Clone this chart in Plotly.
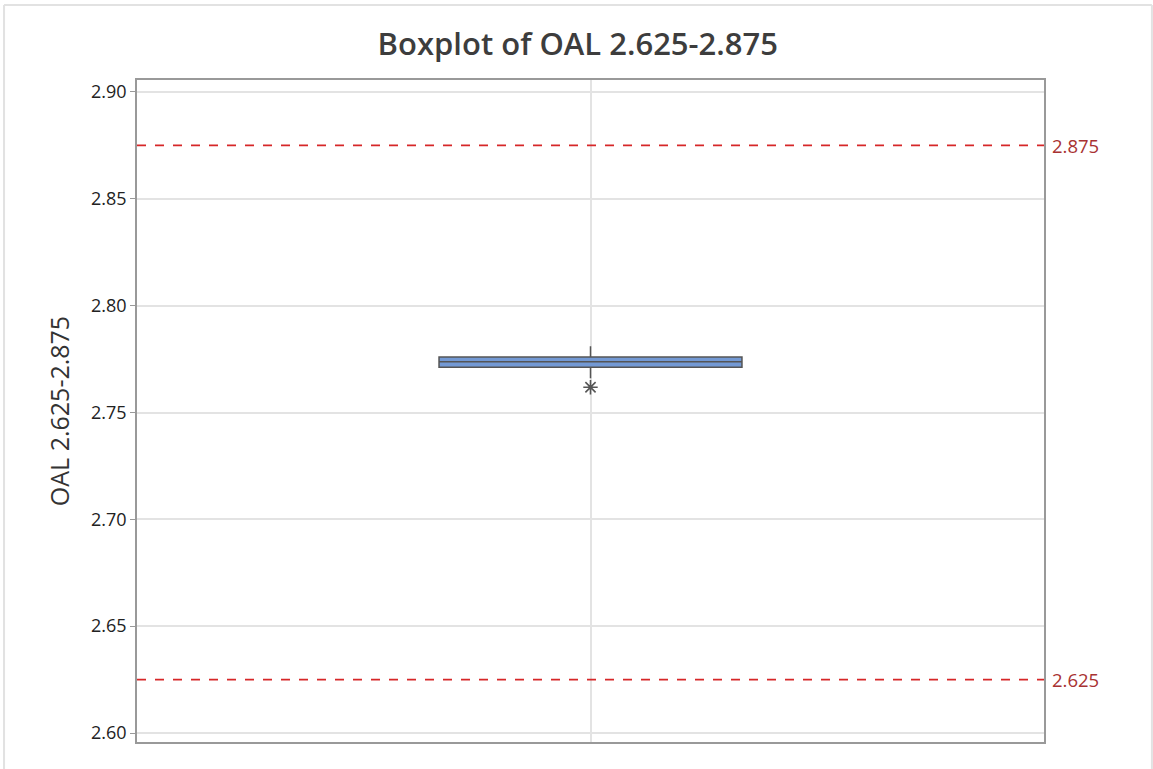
import plotly.graph_objects as go

# Summary statistics of the OAL measurements
group = ["OAL 2.625-2.875"]
q1 = [2.7712]
median = [2.7738]
q3 = [2.7760]
lower_whisker = [2.7660]
upper_whisker = [2.7810]
outliers = [2.7618]

# Specification limits
spec_limits = [2.875, 2.625]
spec_labels = ["2.875", "2.625"]

y_ticks = [2.60, 2.65, 2.70, 2.75, 2.80, 2.85, 2.90]

fig = go.Figure()

fig.add_trace(go.Box(
    x=[0],
    q1=q1, median=median, q3=q3,
    lowerfence=lower_whisker, upperfence=upper_whisker,
    width=0.334,
    fillcolor="#7399d4",
    line=dict(color="#555555", width=1.5),
    whiskerwidth=0,
    boxpoints=False,
    showlegend=False,
    hoverinfo="skip",
))

fig.add_trace(go.Scatter(
    x=[0] * len(outliers), y=outliers,
    mode="markers",
    marker=dict(symbol="asterisk-open", size=12, color="#555555",
                line=dict(color="#555555", width=1.6)),
    showlegend=False,
    hoverinfo="skip",
))

for val, lab in zip(spec_limits, spec_labels):
    fig.add_shape(type="line", xref="paper", yref="y", x0=0, x1=1, y0=val, y1=val,
                  line=dict(color="#d62728", width=1.6, dash="dash"), layer="above")
    fig.add_annotation(xref="paper", yref="y", x=1.0, y=val, xanchor="left",
                       xshift=6, text=lab, showarrow=False,
                       font=dict(family="Open Sans", size=18.5, color="#a83232"))

# Thin light frame around the whole figure
fig.add_shape(type="line", xref="paper", yref="paper", x0=-0.1466, x1=-0.1466, y0=-0.05, y1=1.1133,
              line=dict(color="#e2e2e2", width=2))
fig.add_shape(type="line", xref="paper", yref="paper", x0=-0.1466, x1=1.119, y0=1.1133, y1=1.1133,
              line=dict(color="#e2e2e2", width=2))
fig.add_shape(type="line", xref="paper", yref="paper", x0=1.119, x1=1.119, y0=-0.05, y1=1.1133,
              line=dict(color="#e2e2e2", width=2))

fig.update_layout(
    width=1153, height=769,
    margin=dict(l=137, r=109, t=80, b=27),
    paper_bgcolor="white",
    plot_bgcolor="white",
    title=dict(text="Boxplot of OAL 2.625-2.875", x=0.486, xref="paper", xanchor="center",
               y=0.942, yanchor="middle",
               font=dict(family="Open Sans", size=31, color="#3d3d3d", weight=600)),
    font=dict(family="Open Sans", color="#222222"),
)

fig.update_xaxes(
    range=[-0.5, 0.5],
    tickvals=[0], ticktext=[""],
    showgrid=True, gridcolor="#e3e3e3", gridwidth=1.5,
    zeroline=False,
    showline=True, linecolor="#999999", linewidth=1.5, mirror=True,
    ticks="",
)

fig.update_yaxes(
    range=[2.5958, 2.9056],
    tickvals=y_ticks,
    ticktext=[f"{v:.2f}" for v in y_ticks],
    tickfont=dict(family="Open Sans", size=18, color="#222222"),
    ticks="outside", ticklen=5, tickcolor="#999999",
    showgrid=True, gridcolor="#e3e3e3", gridwidth=1.5,
    zeroline=False,
    showline=True, linecolor="#999999", linewidth=1.5, mirror=True,
    title=dict(text="OAL 2.625-2.875", standoff=14,
               font=dict(family="Open Sans", size=25, color="#333333")),
)

fig.write_html("out.html")
